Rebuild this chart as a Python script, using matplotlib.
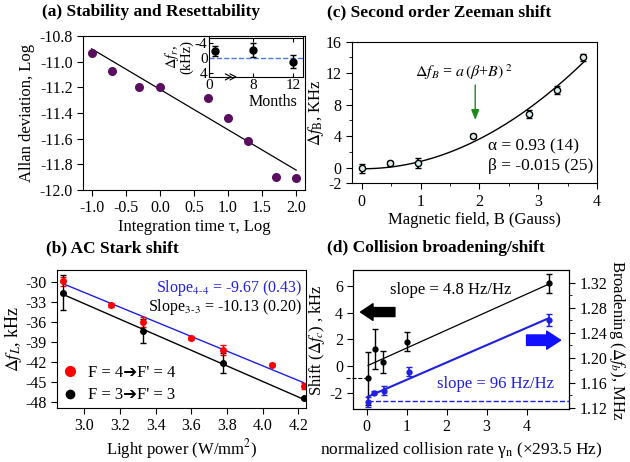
import matplotlib
matplotlib.use('Agg')
import matplotlib.pyplot as plt
import numpy as np

plt.rcParams['font.family'] = ['Liberation Serif', 'DejaVu Sans']
plt.rcParams['mathtext.fontset'] = 'stix'
plt.rcParams['axes.unicode_minus'] = False
plt.rcParams['font.size'] = 12
plt.rcParams['xtick.labelsize'] = 11.5
plt.rcParams['ytick.labelsize'] = 11.5

# (a) stability
tau_log = [-1.0, -0.7, -0.3, 0.0, 0.7, 1.0, 1.3, 1.7, 2.0]
allan_log = [-10.935, -11.07, -11.20, -11.20, -11.28, -11.437, -11.62, -11.90, -11.905]
allan_fit_x = [-1.0, 2.0]
allan_fit_y = [-10.90, -11.845]

# (a) inset: resettability
months = [1, 8, 12]
reset_shift = [-1.95, -2.2, 0.9]
reset_err = [1.35, 1.8, 1.7]

# (b) AC Stark shift
power_44 = [2.88, 3.15, 3.33, 3.60, 3.78, 4.05, 4.23]
stark_44 = [-29.9, -33.4, -36.0, -38.4, -40.2, -42.4, -45.6]
err_44 = [0.7, 0.3, 0.8, 0.3, 0.8, 0.2, 0.5]
power_33 = [2.88, 3.33, 3.78, 4.23]
stark_33 = [-31.6, -37.3, -42.2, -47.4]
err_33 = [2.6, 1.8, 1.5, 0.2]
fit_power = [2.88, 4.23]
fit_44 = [-30.25, -45.1]
fit_33 = [-31.85, -47.6]

# (c) Zeeman
field = [0.0, 0.48, 0.95, 1.90, 2.84, 3.32, 3.77]
zeeman = [-0.1, 0.55, 0.62, 4.0, 6.8, 9.86, 14.0]
zeeman_err = [0.6, 0.3, 0.65, 0.25, 0.5, 0.55, 0.4]
fit_a, fit_beta, fit_c = 0.96, -0.015, -0.15

# (d) collisions
rate_shift = [0.04, 0.21, 0.40, 1.00, 4.56]
coll_shift = [-0.92, 1.28, 0.30, 1.83, 6.2]
coll_shift_err = [2.0, 1.5, 0.85, 0.7, 0.7]
shift_fit_x = [0.04, 4.56]
shift_fit_y = [0.05, 6.15]
rate_broad = [0.03, 0.19, 0.44, 1.06, 4.55]
broad = [1.1296, 1.144, 1.147, 1.1776, 1.2603]
broad_err = [0.008, 0.002, 0.007, 0.007, 0.009]
broad_fit_x = [0.03, 4.55]
broad_fit_y = [1.1376, 1.263]
broad_ref = 1.131
shift_ref = -0.92

W, H = 630, 462
fig = plt.figure(figsize=(6.3, 4.62), dpi=100)


def box(l, t, r, b):
    return [l / W, 1 - b / H, (r - l) / W, (b - t) / H]


def title(x, y, s):
    fig.text(x / W, 1 - y / H, s, fontweight='bold', fontsize=12.5, va='center', ha='left')


tick_kw = dict(direction='out', length=4, width=0.8)

# ---- (a)
ax = fig.add_axes(box(83, 36, 305, 190))
ax.plot(allan_fit_x, allan_fit_y, color='k', lw=0.9)
ax.plot(tau_log, allan_log, 'o', color='#5a0f5e', ms=5.5)
ax.set_xlim(-1.127, 2.13)
ax.set_ylim(-12.0, -10.8)
ax.set_xticks(np.arange(-1.0, 2.01, 0.5))
ax.set_yticks(np.arange(-12.0, -10.79, 0.2))
ax.xaxis.set_major_formatter('{x:.1f}')
ax.yaxis.set_major_formatter('{x:.1f}')
ax.tick_params(**tick_kw)
ax.set_xlabel('Integration time τ, Log', labelpad=2)
ax.set_ylabel('Allan deviation, Log', labelpad=3)
title(42, 12, '(a) Stability and Resettability')


def fwd(x):
    return np.interp(x, [0, 8, 13], [0, 44, 94])


def inv(x):
    return np.interp(x, [0, 44, 94], [0, 8, 13])


ai = fig.add_axes(box(209, 37.5, 303, 77.3))
ai.set_xscale('function', functions=(fwd, inv))
ai.axhline(0, color='#4a78e0', ls='--', lw=1)
ai.errorbar(months, reset_shift, yerr=reset_err, fmt='o', color='k', ms=5, capsize=2, elinewidth=1)
ai.set_xlim(0, 13)
ai.set_ylim(5.1, -5.5)
ai.set_xticks([0, 8, 12])
ai.set_yticks([-4, 0, 4])
ai.tick_params(labelsize=11, direction='in', length=3, pad=1, top=True)
ai.set_ylabel('$\\Delta f_r$,\n(kHz)', fontsize=10.5, labelpad=1, linespacing=0.9)
ai.set_xlabel('Months', fontsize=11.5, x=0.68, labelpad=2)
ai.text(3.8, 0, '≫', transform=ai.get_xaxis_transform(), ha='center', va='center',
        fontsize=9, family='DejaVu Sans')

# ---- (c)
ax = fig.add_axes(box(352, 41.7, 597, 183.3))
bb = np.linspace(0, 3.78, 100)
ax.plot(bb, fit_c + fit_a * (fit_beta + bb) ** 2, color='k', lw=1)
ax.errorbar(field, zeeman, yerr=zeeman_err, fmt='o', mfc='#d8ecec', mec='k', ecolor='k',
            ms=4.5, capsize=2.5, elinewidth=1.2, mew=1)
ax.set_xlim(-0.165, 4)
ax.set_ylim(-2, 16)
ax.set_xticks([0, 1, 2, 3, 4])
ax.set_yticks([-2, 0, 4, 8, 12, 16])
ax.set_xticks(np.arange(0.5, 4, 1), minor=True)
ax.set_yticks([2, 6, 10, 14], minor=True)
ax.tick_params(**tick_kw)
ax.tick_params(which='minor', direction='out', length=2)
ax.set_xlabel('Magnetic field, B (Gauss)', labelpad=2)
ax.set_ylabel('$\\Delta f_\\mathrm{B}$, KHz', labelpad=0)
ax.text(0.91, 12.15, '$\\Delta f_B$ = $a\\,(\\beta$+$B)\\,^2$', fontsize=11.5, va='center')
ax.annotate('', xy=(1.93, 6.05), xytext=(1.93, 10.5),
            arrowprops=dict(arrowstyle='-|>,head_length=0.5,head_width=0.2', color='#1a8a1a', lw=1,
                            shrinkA=0, shrinkB=0))
ax.text(2.15, 2.75, 'α = 0.93 (14)', fontsize=12.5, va='center')
ax.text(2.15, 0.2, 'β = -0.015 (25)', fontsize=12.5, va='center')
title(327, 12, '(c) Second order Zeeman shift')

# ---- (b)
ax = fig.add_axes(box(57, 270, 306, 408))
ax.plot(fit_power, fit_44, color='#1f1fe0', lw=1)
ax.plot(fit_power, fit_33, color='k', lw=1)
ax.errorbar(power_44, stark_44, yerr=err_44, fmt='o', color='red', ms=4, capsize=2.5, elinewidth=1)
ax.errorbar(power_33, stark_33, yerr=err_33, fmt='o', color='k', ms=4, capsize=2.5, elinewidth=1)
ax.plot([], [], 'o', color='red', ms=7, label="F = 4➔F' = 4")
ax.plot([], [], 'o', color='k', ms=6, label="F = 3➔F' = 3")
ax.legend(loc='lower left', bbox_to_anchor=(-0.035, -0.075), frameon=False, handlelength=0.8,
          handletextpad=0.7, labelspacing=0.4, fontsize=12)
ax.set_xlim(2.847, 4.243)
ax.set_ylim(-48.9, -28.2)
ax.set_xticks(np.arange(3.0, 4.21, 0.2))
ax.set_yticks(np.arange(-48, -29, 3))
ax.xaxis.set_major_formatter('{x:.1f}')
ax.tick_params(**tick_kw)
ax.set_xlabel('Light power (W/mm$^2$)', labelpad=2)
ax.set_ylabel('$\\Delta f_L$, kHz', fontsize=13, labelpad=1)
ax.text(0.985, 0.87, 'Slope$_{4\\text{-}4}$ = -9.67 (0.43)', transform=ax.transAxes,
        ha='right', va='center', color='#1f1fe0', fontsize=11.5)
ax.text(0.985, 0.73, 'Slope$_{3\\text{-}3}$ = -10.13 (0.20)', transform=ax.transAxes,
        ha='right', va='center', color='k', fontsize=11.5)
title(46, 248, '(b) AC Stark shift')

# ---- (d)
ax = fig.add_axes(box(353.3, 270.3, 569, 409))
ax.plot(shift_fit_x, shift_fit_y, color='k', lw=0.9)
ax.errorbar(rate_shift, coll_shift, yerr=coll_shift_err, fmt='o', color='k', ms=3.5, capsize=2.5,
            elinewidth=1)
ax.plot([-0.5, rate_shift[0]], [shift_ref, shift_ref], ls='--', color='k', lw=0.8, clip_on=False)
ax.annotate('', xy=(-0.15, 4.05), xytext=(0.71, 4.05),
            arrowprops=dict(arrowstyle='simple,head_length=0.9,head_width=1.2,tail_width=0.65',
                            color='k', shrinkA=0, shrinkB=0, mutation_scale=10))
ax.text(0.45, 0.858, 'slope = 4.8 Hz/Hz', transform=ax.transAxes, ha='center', va='center',
        fontsize=12)
ax.set_xlim(-0.33, 5.06)
ax.set_ylim(-3.22, 7.18)
ax.set_xticks([0, 1, 2, 3, 4])
ax.set_yticks([-2, 0, 2, 4, 6])
ax.tick_params(**tick_kw)
ax.set_xlabel('normalized collision rate γ$_\\mathrm{n}$ (×293.5 Hz)', fontsize=12.5, labelpad=3)
ax.set_ylabel('Shift ($\\Delta f_c$) , kHz', labelpad=2)

ar = ax.twinx()
ar.axhline(broad_ref, xmin=0.07, xmax=1, ls='--', color='#1f1fe0', lw=1)
ar.plot(broad_fit_x, broad_fit_y, color='#1f1fe0', lw=1.5)
ar.errorbar(rate_broad, broad, yerr=broad_err, fmt='o', color='#1f1fe0', ms=3.5, capsize=2.5,
            elinewidth=1.2)
ar.annotate('', xy=(4.85, 1.228), xytext=(4.0, 1.228),
            arrowprops=dict(arrowstyle='simple,head_length=1.0,head_width=1.3,tail_width=0.75',
                            color='#1010ff', shrinkA=0, shrinkB=0, mutation_scale=10))
ar.text(0.66, 0.18, 'slope = 96 Hz/Hz', transform=ar.transAxes, ha='center', va='center',
        color='#1f1fe0', fontsize=12)
ar.set_ylim(1.1179, 1.3398)
ar.set_yticks(np.arange(1.12, 1.321, 0.04))
ar.set_yticks(np.arange(1.14, 1.33, 0.04), minor=True)
ar.yaxis.set_major_formatter('{x:.2f}')
ar.tick_params(**tick_kw)
ar.tick_params(which='minor', direction='out', length=2)
ar.set_ylabel('Broadening ($\\Delta f_b$), MHz', rotation=270, labelpad=14)
title(327, 248, '(d) Collision broadening/shift')

fig.savefig('out.png', dpi=100)
